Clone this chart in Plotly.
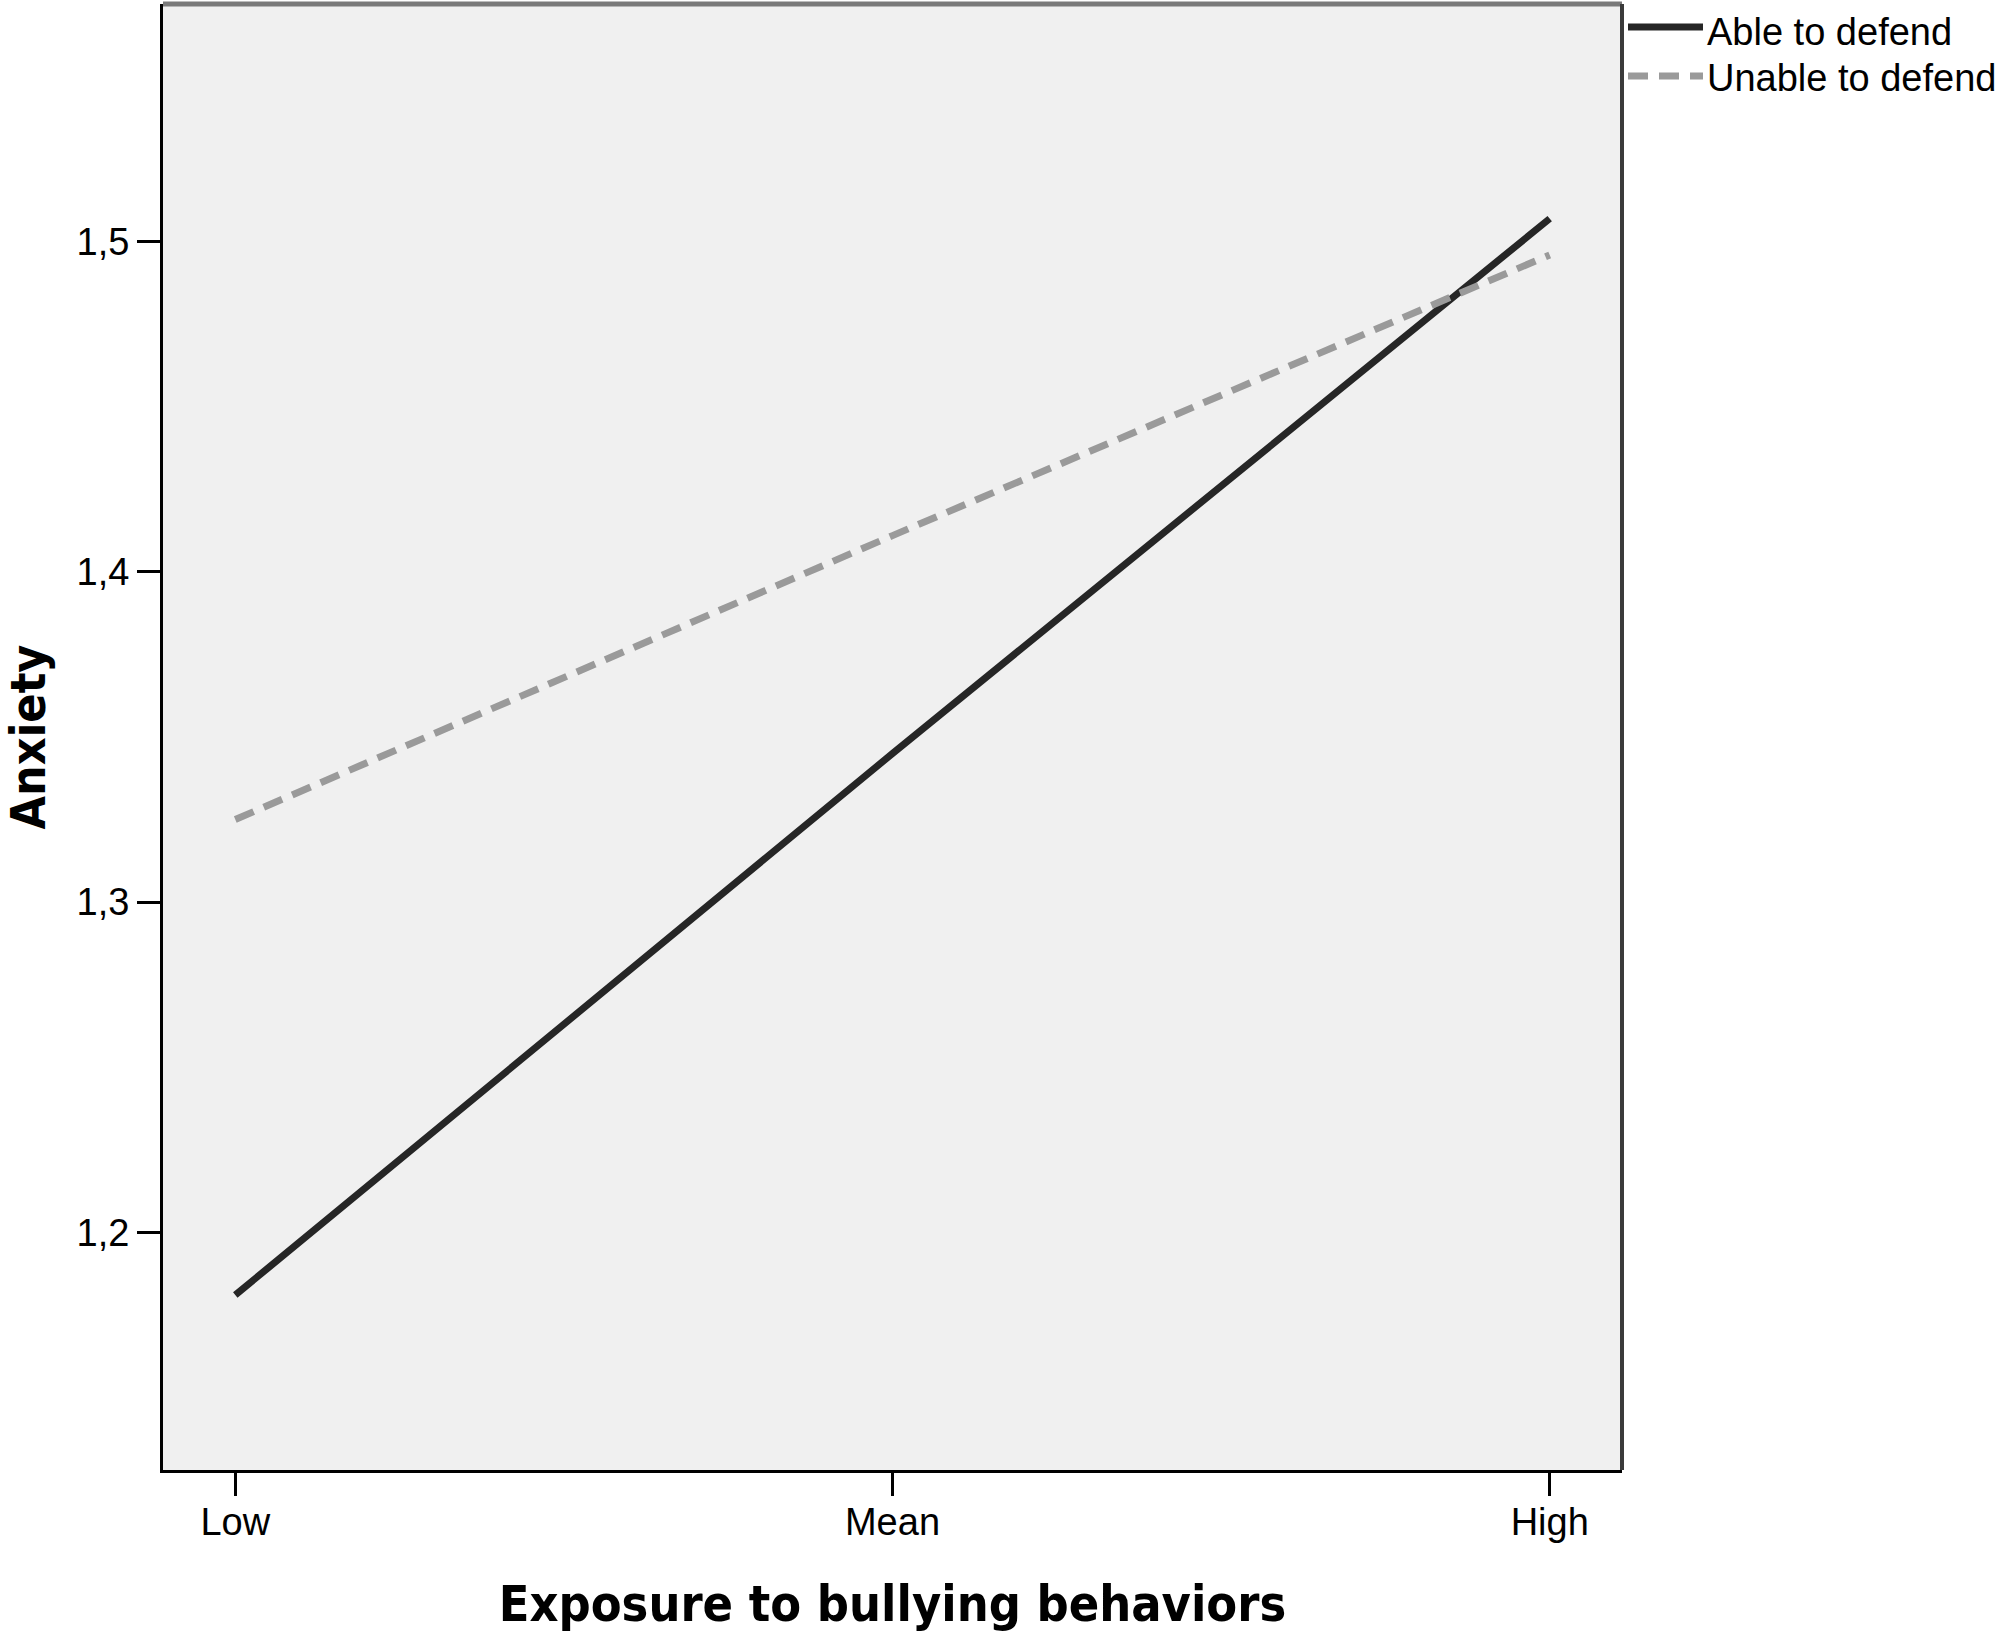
import plotly.graph_objects as go

# ---- data ----
categories = ["Low", "Mean", "High"]
x_pos = [0, 1, 2]
able_to_defend = [1.181, 1.345, 1.507]
unable_to_defend = [1.325, 1.411, 1.496]
y_tickvals = [1.2, 1.3, 1.4, 1.5]
y_ticktext = ["1,2", "1,3", "1,4", "1,5"]
series_names = ["Able to defend", "Unable to defend"]

W, H = 2000, 1634
L, R, T, B = 163, 1622, 4, 1470  # plot area pixels


def px_x(p):
    return (p - L) / (R - L)


def px_y(p):
    return (B - p) / (B - T)


tick_font = dict(family="Liberation Sans, Arial, sans-serif", size=38, color="black")
xtitle_font = dict(family="DejaVu Sans Condensed, DejaVu Sans, sans-serif", size=50, color="black")
ytitle_font = dict(family="DejaVu Sans Condensed, DejaVu Sans, sans-serif", size=48, color="black")

fig = go.Figure()
fig.add_trace(go.Scatter(x=x_pos, y=able_to_defend, mode="lines", name=series_names[0],
                         line=dict(color="#262626", width=7), showlegend=False))
fig.add_trace(go.Scatter(x=x_pos, y=unable_to_defend, mode="lines", name=series_names[1],
                         line=dict(color="#9a9a9a", width=7, dash="20px,11px"), showlegend=False))

fig.update_layout(
    width=W, height=H,
    margin=dict(l=L, r=W - R, t=T, b=H - B, pad=0),
    paper_bgcolor="white",
    plot_bgcolor="#f0f0f0",
    showlegend=False,
    xaxis=dict(
        range=[-0.11, 2.11], tickvals=x_pos, ticktext=categories,
        ticks="outside", ticklen=23, tickwidth=3, tickcolor="black",
        showline=True, linecolor="black", linewidth=3, showgrid=False, zeroline=False,
        tickfont=tick_font, automargin=False, ticklabelstandoff=-7,
        title=dict(text="<b>Exposure to bullying behaviors</b>", font=xtitle_font, standoff=45),
    ),
    yaxis=dict(
        range=[1.128, 1.572], tickvals=y_tickvals, ticktext=y_ticktext,
        ticks="outside", ticklen=23, tickwidth=3, tickcolor="black",
        showline=True, linecolor="black", linewidth=3, showgrid=False, zeroline=False,
        tickfont=tick_font, automargin=False,
        title=dict(text="<b>Anxiety</b>", font=ytitle_font, standoff=30),
    ),
)

# frame: top (gray) and right (dark) borders
fig.add_shape(type="line", xref="paper", yref="paper", x0=0, x1=1, y0=1, y1=1,
              line=dict(color="#7a7a7a", width=5), layer="above")
fig.add_shape(type="line", xref="paper", yref="paper", x0=1, x1=1, y0=0, y1=1,
              line=dict(color="#3a3a3a", width=4), layer="above")

# legend drawn beside the plot
legend_rows = [(27, 32, dict(color="#262626", width=7)),
               (76, 78, dict(color="#9a9a9a", width=7, dash="20px,11px"))]
for name, (ly, ty, lstyle) in zip(series_names, legend_rows):
    fig.add_shape(type="line", xref="paper", yref="paper",
                  x0=px_x(1628), x1=px_x(1703), y0=px_y(ly), y1=px_y(ly), line=lstyle)
    fig.add_annotation(xref="paper", yref="paper", x=px_x(1705), y=px_y(ty),
                       xanchor="left", yanchor="middle", text=name, showarrow=False,
                       font=dict(family="Liberation Sans, Arial, sans-serif", size=38, color="black"))

fig.write_html("out.html", config={"displayModeBar": False},
               post_script="document.body.style.margin='0';document.body.style.overflow='hidden';")
